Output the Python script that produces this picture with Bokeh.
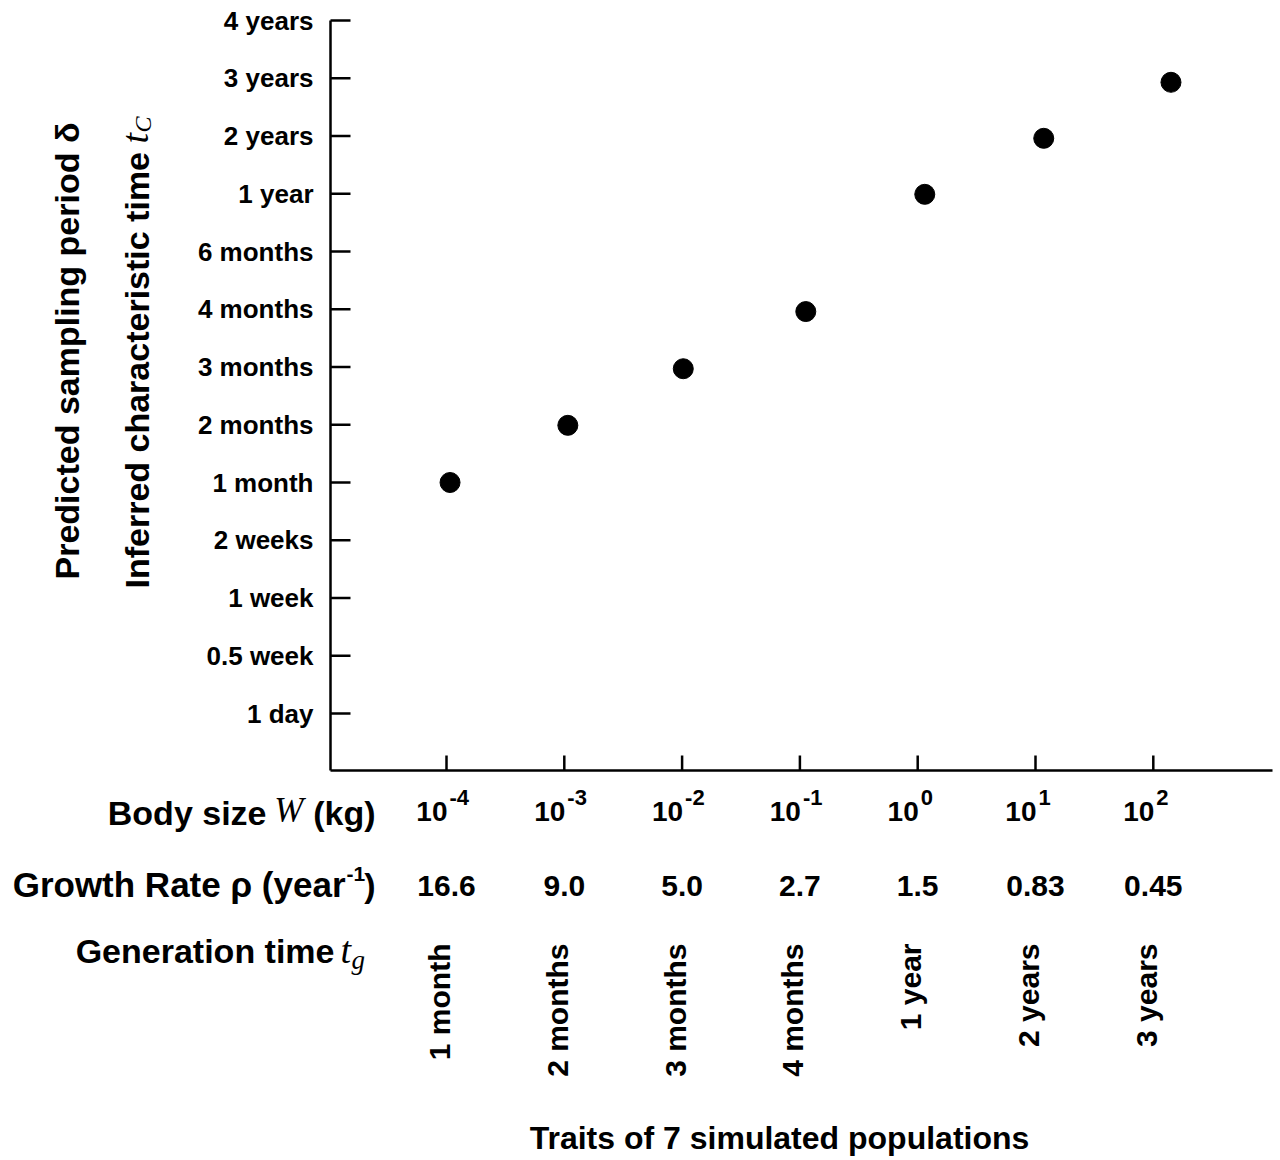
import numpy as np
from bokeh.plotting import figure
from bokeh.models import Range1d
from bokeh.core.properties import value
from bokeh.embed import file_html
from bokeh.resources import INLINE

# ---------------- data ----------------
y_tick_labels = ["1 day", "0.5 week", "1 week", "2 weeks", "1 month", "2 months",
                 "3 months", "4 months", "6 months", "1 year", "2 years", "3 years", "4 years"]
body_size_exponents = [-4, -3, -2, -1, 0, 1, 2]
body_size_sup = ["-4", "-3", "-2", "-1", "0", "1", "2"]
growth_rate_labels = ["16.6", "9.0", "5.0", "2.7", "1.5", "0.83", "0.45"]
generation_time_labels = ["1 month", "2 months", "3 months", "4 months", "1 year", "2 years", "3 years"]
# simulated populations: log10 body size (kg) and inferred characteristic time (position on the y scale)
point_log10_body_size = [-3.97, -2.97, -1.99, -0.95, 0.06, 1.07, 2.15]
point_tc_position = [4.0, 4.99, 5.97, 6.96, 8.99, 9.96, 10.93]

# ---------------- layout helpers (page pixels -> data units) ----------------
W, H = 1280, 1160
X0PX, XSTEP = 446.0, 117.8   # pixel of the 10^-4 tick, pixels per decade
Y0PX, YSTEP = 713.0, 57.75   # pixel of the "1 day" tick, pixels per y step


def X(px):
    return -4 + (px - X0PX) / XSTEP


def Y(py):
    return (Y0PX - py) / YSTEP


def dx(pix):
    return pix / XSTEP


FONT = value("Liberation Sans")
SERIF = value("Liberation Serif")

p = figure(width=W, height=H, x_range=Range1d(X(0), X(W)), y_range=Range1d(Y(H), Y(0)),
           x_axis_location=None, y_axis_location=None, toolbar_location=None,
           output_backend="svg", min_border=0)
p.grid.grid_line_color = None
p.outline_line_color = None
p.background_fill_color = "white"
p.border_fill_color = "white"

# ---------------- axes ----------------
x_spine = X(330)
y_bottom = Y(770)
n_y = len(y_tick_labels)
ys = list(range(n_y))

p.segment(x0=[x_spine], y0=[y_bottom], x1=[x_spine], y1=[ys[-1]], line_color="black", line_width=2.5)
p.segment(x0=[x_spine], y0=[y_bottom], x1=[X(1272)], y1=[y_bottom], line_color="black", line_width=2.5)
# y ticks (inside)
p.segment(x0=[x_spine] * n_y, y0=ys, x1=[X(350)] * n_y, y1=ys, line_color="black", line_width=2.5)
# x ticks (inside)
n_x = len(body_size_exponents)
p.segment(x0=body_size_exponents, y0=[y_bottom] * n_x, x1=body_size_exponents, y1=[Y(755)] * n_x,
          line_color="black", line_width=2.5)

# y tick labels
p.text(x=[X(313)] * n_y, y=ys, text=y_tick_labels, text_align="right", text_baseline="middle",
       text_font=FONT, text_font_style="bold", text_font_size="26px", text_color="black")

# ---------------- points ----------------
p.scatter(x=point_log10_body_size, y=point_tc_position, size=20, color="black")

# ---------------- bottom rows ----------------
MID = "middle"
# Body size W (kg)
p.text(x=[e + dx(1) for e in body_size_exponents], y=[Y(811)] * n_x, text=["10"] * n_x,
       text_align="right", text_baseline=MID, text_font=FONT, text_font_style="bold",
       text_font_size="28px", text_color="black")
p.text(x=[e + dx(3) for e in body_size_exponents], y=[Y(797)] * n_x, text=body_size_sup,
       text_align="left", text_baseline=MID, text_font=FONT, text_font_style="bold",
       text_font_size="22px", text_color="black")
p.text(x=[X(375)], y=[Y(812)], text=["(kg)"], text_align="right", text_baseline=MID,
       text_font=FONT, text_font_style="bold", text_font_size="34px", text_color="black")
p.text(x=[X(303)], y=[Y(810)], text=["W"], text_align="right", text_baseline=MID,
       text_font=SERIF, text_font_style="italic", text_font_size="35px", text_color="black")
p.text(x=[X(266)], y=[Y(812)], text=["Body size"], text_align="right", text_baseline=MID,
       text_font=FONT, text_font_style="bold", text_font_size="34px", text_color="black")

# Growth Rate rho (year^-1)
p.text(x=body_size_exponents, y=[Y(885)] * n_x, text=growth_rate_labels, text_align="center",
       text_baseline=MID, text_font=FONT, text_font_style="bold", text_font_size="30px",
       text_color="black")
p.text(x=[X(375)], y=[Y(884)], text=[")"], text_align="right", text_baseline=MID,
       text_font=FONT, text_font_style="bold", text_font_size="34px", text_color="black")
p.text(x=[X(346)], y=[Y(873)], text=["-1"], text_align="left", text_baseline=MID,
       text_font=FONT, text_font_style="bold", text_font_size="21px", text_color="black")
p.text(x=[X(345)], y=[Y(884)], text=["Growth Rate ρ (year"], text_align="right",
       text_baseline=MID, text_font=FONT, text_font_style="bold", text_font_size="35px",
       text_color="black")

# Generation time t_g
p.text(x=[X(334)], y=[Y(950)], text=["Generation time"], text_align="right", text_baseline=MID,
       text_font=FONT, text_font_style="bold", text_font_size="34px", text_color="black")
p.text(x=[X(340)], y=[Y(949)], text=["t"], text_align="left", text_baseline=MID,
       text_font=SERIF, text_font_style="italic", text_font_size="38px", text_color="black")
p.text(x=[X(351)], y=[Y(959)], text=["g"], text_align="left", text_baseline=MID,
       text_font=SERIF, text_font_style="italic", text_font_size="27px", text_color="black")
p.text(x=[e - dx(7) for e in body_size_exponents], y=[Y(943)] * n_x, text=generation_time_labels,
       angle=np.pi / 2, text_align="right", text_baseline="middle", text_font=FONT,
       text_font_style="bold", text_font_size="30px", text_color="black")

# Title below
p.text(x=[X(779)], y=[Y(1137)], text=["Traits of 7 simulated populations"], text_align="center",
       text_baseline=MID, text_font=FONT, text_font_style="bold", text_font_size="32px",
       text_color="black")

# ---------------- y titles ----------------
p.text(x=[X(66)], y=[Y(579)], text=["Predicted sampling period δ"], angle=np.pi / 2,
       text_align="left", text_baseline="middle", text_font=FONT, text_font_style="bold",
       text_font_size="34px", text_color="black")
p.text(x=[X(136)], y=[Y(588)], text=["Inferred characteristic time"], angle=np.pi / 2,
       text_align="left", text_baseline="middle", text_font=FONT, text_font_style="bold",
       text_font_size="34px", text_color="black")
p.text(x=[X(134)], y=[Y(143)], text=["t"], angle=np.pi / 2, text_align="left",
       text_baseline="middle", text_font=SERIF, text_font_style="italic", text_font_size="38px",
       text_color="black")
p.text(x=[X(142)], y=[Y(132)], text=["C"], angle=np.pi / 2, text_align="left",
       text_baseline="middle", text_font=SERIF, text_font_style="italic", text_font_size="24px",
       text_color="black")

open("out.html", "w").write(file_html(p, INLINE))
